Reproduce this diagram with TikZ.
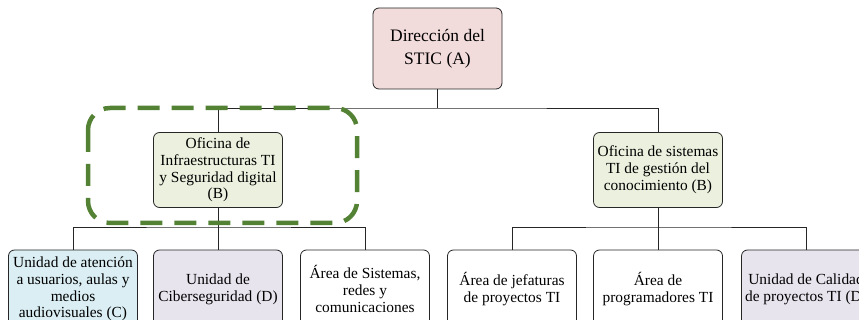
\documentclass[tikz,border=0pt]{standalone}
\usepackage{fontspec}
\setmainfont{Liberation Serif}
\usetikzlibrary{positioning}

\definecolor{rosa}{HTML}{F2DCDB}
\definecolor{verdeclaro}{HTML}{EBF1DE}
\definecolor{celeste}{HTML}{DAEEF3}
\definecolor{lila}{HTML}{E8E4EE}
\definecolor{verdemarco}{HTML}{548235}

\tikzset{
  caja/.style={draw=black!85, line width=0.8pt, rounded corners=6pt,
    minimum width=129pt, minimum height=75pt, inner sep=1pt, align=center,
    font=\fontsize{15.4}{16.8}\selectfont},
  cajatop/.style={caja, minimum height=81pt, font=\fontsize{17.5}{23}\selectfont},
  linea/.style={draw=black!85, line width=0.8pt},
  marco/.style={draw=verdemarco, line width=4.5pt, rounded corners=22pt,
    dash pattern=on 22pt off 12pt}
}

\begin{document}
\begin{tikzpicture}[x=1pt,y=-1pt]
  \clip (0,0) rectangle (859,320);

  % nivel 1
  \node[cajatop,fill=rosa] (dir) at (437.5,48.5) {Dirección del\\STIC (A)};

  % nivel 2
  \node[caja,fill=verdeclaro] (ofiInf) at (218,170)
    {Oficina de\\Infraestructuras TI\\y Seguridad digital\\(B)};
  \node[caja,fill=verdeclaro] (ofiGes) at (658,170)
    {Oficina de sistemas\\TI de gestión del\\conocimiento (B)};

  % nivel 3
  \node[caja,fill=celeste,minimum height=78pt] (uniAte) at (73,289)
    {Unidad de atención\\a usuarios, aulas y\\medios\\audiovisuales (C)};
  \node[caja,fill=lila,minimum height=78pt] (uniCib) at (218,289)
    {Unidad de\\Ciberseguridad (D)};
  \node[caja,minimum height=78pt] (areaSis) at (365,289)
    {Área de Sistemas,\\redes y\\comunicaciones};
  \node[caja,minimum height=78pt] (areaJef) at (512,289)
    {Área de jefaturas\\de proyectos TI};
  \node[caja,minimum height=78pt] (areaProg) at (658,289)
    {Área de\\programadores TI};
  \node[caja,fill=lila,minimum height=78pt] (uniCal) at (806,289)
    {Unidad de Calidad\\de proyectos TI (D)};

  % conectores
  \coordinate (busA) at (437.5,108);
  \coordinate (busB) at (218,227);
  \coordinate (busC) at (658,227);
  \draw[linea] (dir) -- (busA);
  \draw[linea] (ofiInf) |- (busA) -| (ofiGes);
  \draw[linea] (ofiInf) -- (uniCib);
  \draw[linea] (uniAte) |- (busB) -| (areaSis);
  \draw[linea] (ofiGes) -- (areaProg);
  \draw[linea] (areaJef) |- (busC) -| (uniCal);

  % recuadro discontinuo
  \draw[marco] (88,108) rectangle (357,223);
\end{tikzpicture}
\end{document}
